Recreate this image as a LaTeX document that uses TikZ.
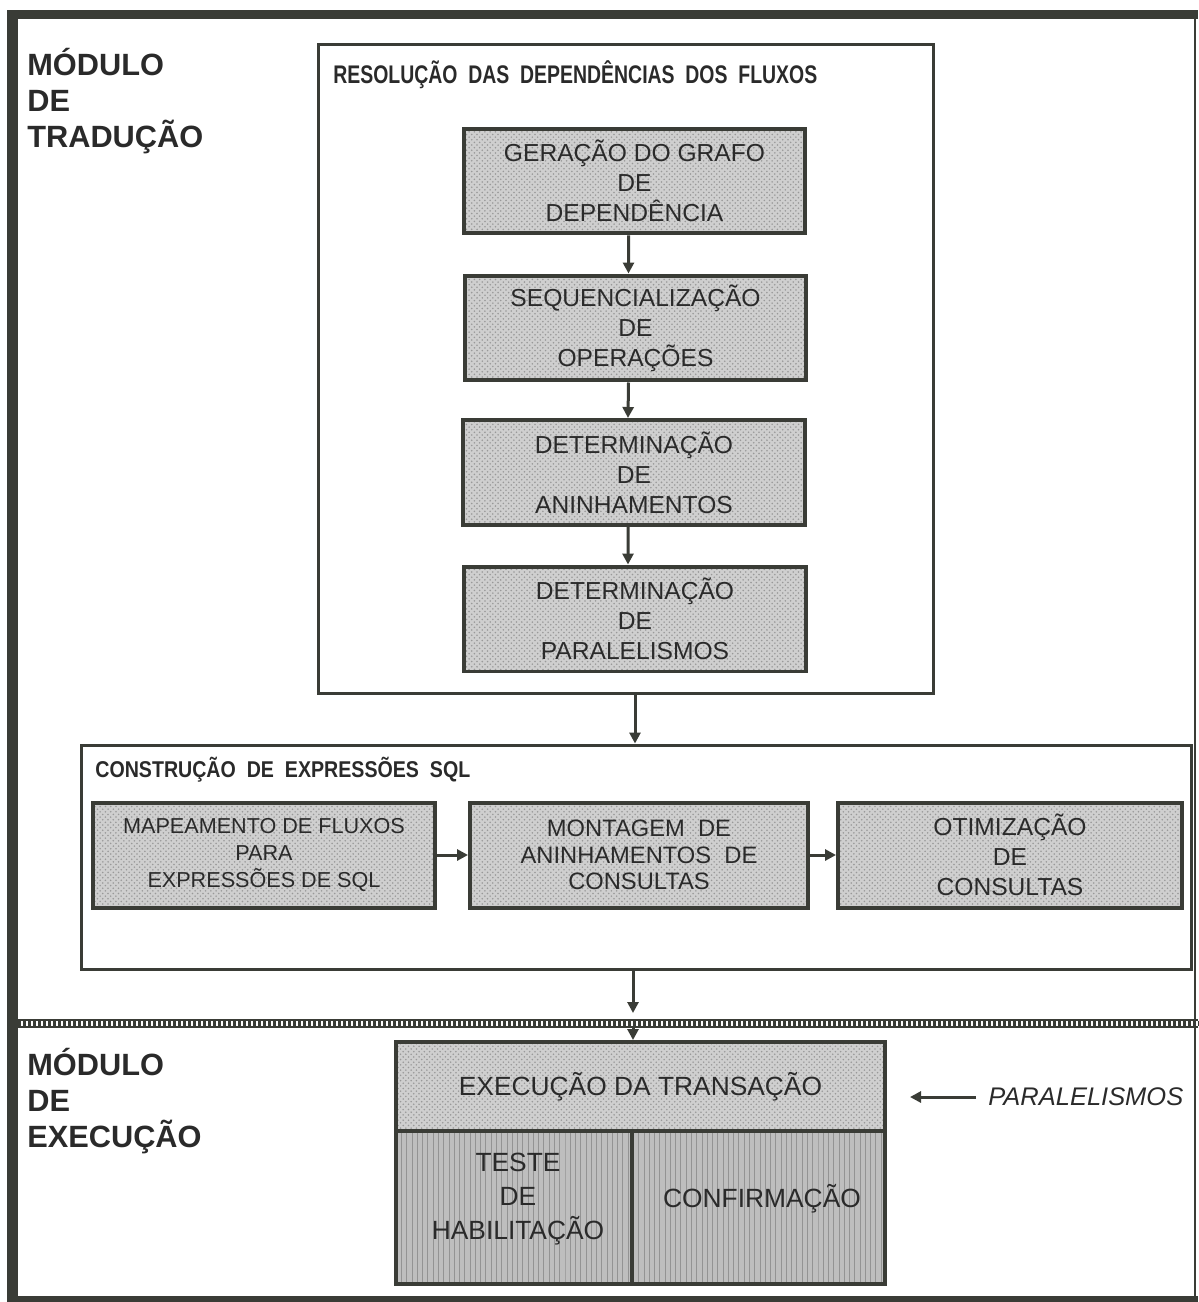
\documentclass[tikz,border=0pt]{standalone}
\usepackage{fontspec}
\setmainfont{Liberation Sans}
\usepackage{graphicx}
\usetikzlibrary{arrows.meta,patterns}
\definecolor{ink}{HTML}{3A3C36}
\definecolor{txt}{HTML}{2A2A2A}
\definecolor{stip}{HTML}{CFCFCF}
\definecolor{stipdark}{HTML}{BEBEBE}
% stretch a text horizontally to a given width, keeping its height
\newcommand\widento[2]{\resizebox{#1}{\height}{#2}}

\begin{document}
\begin{tikzpicture}[x=0.02cm,y=-0.02cm,
  every node/.style={text=txt, inner sep=0pt},
  frame/.style={draw=ink, line width=0.06cm},
  procbox/.style={draw=ink, line width=0.08cm, preaction={fill=stip},
    pattern=crosshatch dots, pattern color=gray!80,
    minimum height=2.1cm, align=center,
    font=\fontsize{14}{17}\selectfont},
  execbox/.style={draw=ink, line width=0.08cm, preaction={fill=stipdark},
    pattern=vertical lines, pattern color=gray!85,
    minimum height=3.06cm},
  exectext/.style={align=center, font=\fontsize{15}{19.5}\selectfont},
  modlabel/.style={anchor=north west, align=left,
    font=\bfseries\fontsize{17.5}{20.5}\selectfont},
  grouptitle/.style={anchor=west, font=\bfseries},
  arr/.style={draw=ink, line width=0.06cm, -{Triangle[length=0.22cm,width=0.22cm]}},
]
\useasboundingbox (0,0) rectangle (1198,1302);

% outer frame
\draw[ink, line width=0.22cm] (12.5,10) -- (12.5,1302);
\draw[ink, line width=0.18cm] (7,14.5) -- (1198,14.5);
\draw[ink, line width=0.2cm] (7,1301) -- (1198,1301);
\draw[ink, line width=0.04cm] (1195,14.5) -- (1195,1302);

% separator between the two modules
\draw[ink, line width=0.025cm] (18,1020) -- (1198,1020);
\draw[ink, line width=0.025cm] (18,1027) -- (1198,1027);
\draw[ink, line width=0.1cm, dash pattern=on 0.06cm off 0.04cm] (18,1023.5) -- (1198,1023.5);

% module labels
\node[modlabel] (modtrad) at (27,48) {MÓDULO\\DE\\TRADUÇÃO};
\node[modlabel] (modexec) at (27,1048) {MÓDULO\\DE\\EXECUÇÃO};

% dependency resolution group
\node[frame, minimum width=12.32cm, minimum height=13cm] (res) at (626,369) {};
\node[grouptitle, font=\bfseries\fontsize{14.5}{17}\selectfont] (restitle) at (333,75)
  {\widento{9.68cm}{RESOLUÇÃO\ \ DAS\ \ DEPENDÊNCIAS\ \ DOS\ \ FLUXOS}};

\node[procbox, minimum width=6.84cm] (g1) at (634.5,181) {GERAÇÃO DO GRAFO\\DE\\DEPENDÊNCIA};
\node[procbox, minimum width=6.84cm] (g2) at (635.5,328) {SEQUENCIALIZAÇÃO\\DE\\OPERAÇÕES};
\node[procbox, minimum width=6.84cm] (g3) at (634,472.5) {DETERMINAÇÃO\\DE\\ANINHAMENTOS};
\node[procbox, minimum width=6.84cm] (g4) at (635,619) {DETERMINAÇÃO\\DE\\PARALELISMOS};

\draw[arr] ([xshift=-0.12cm]g1.south) -- ([xshift=-0.14cm]g2.north);
\draw[arr] ([xshift=-0.14cm]g2.south) -- ([xshift=-0.12cm]g3.north);
\draw[arr] ([xshift=-0.12cm]g3.south) -- ([xshift=-0.14cm]g4.north);

% SQL construction group
\node[frame, minimum width=22.22cm, minimum height=4.5cm] (cons) at (636.5,857.5) {};
\node[grouptitle, font=\bfseries\fontsize{13}{16}\selectfont] (constitle) at (95,770)
  {\widento{7.5cm}{CONSTRUÇÃO\ \ DE\ \ EXPRESSÕES\ \ SQL}};

\node[procbox, minimum width=6.84cm, font=\fontsize{12.3}{15.6}\selectfont] (ma) at (264,855)
  {MAPEAMENTO DE FLUXOS\\PARA\\EXPRESSÕES DE SQL};
\node[procbox, minimum width=6.76cm, font=\fontsize{13.5}{15}\selectfont] (mb) at (639,855)
  {MONTAGEM\ \ DE\\ANINHAMENTOS\ \ DE\\CONSULTAS};
\node[procbox, minimum width=6.88cm] (mc) at (1010,855)
  {OTIMIZAÇÃO\\DE\\CONSULTAS};

\draw[arr] (ma.east) -- (mb.west);
\draw[arr] (mb.east) -- (mc.west);

\draw[arr] (res.south -| g4.south) -- (cons.north -| g4.south);

% transaction execution
\node[procbox, minimum width=9.78cm, minimum height=1.78cm, font=\fontsize{15}{18}\selectfont]
  (ex) at (640.5,1086.5) {EXECUÇÃO DA TRANSAÇÃO};
\node[execbox, minimum width=4.72cm] (exl) at (514,1207.5) {};
\node[execbox, minimum width=5.06cm] (exr) at (758.5,1207.5) {};
\node[exectext] (exltext) at (518,1199) {TESTE\\DE\\HABILITAÇÃO};
\node[exectext] (exrtext) at (762,1199) {CONFIRMAÇÃO};

\coordinate (sepin) at (633,1013);
\coordinate (sepout) at (633,1027);
\draw[arr] (cons.south -| sepin) -- (sepin);
\draw[arr] (sepout) -- (ex.north -| sepout);

% parallelism input
\node[anchor=west, font=\itshape\fontsize{14.5}{17}\selectfont] (par) at (988,1097) {PARALELISMOS};
\coordinate (parend) at (910,1097);
\draw[arr] ([xshift=-0.24cm]par.west) -- (parend);

\end{tikzpicture}
\end{document}
